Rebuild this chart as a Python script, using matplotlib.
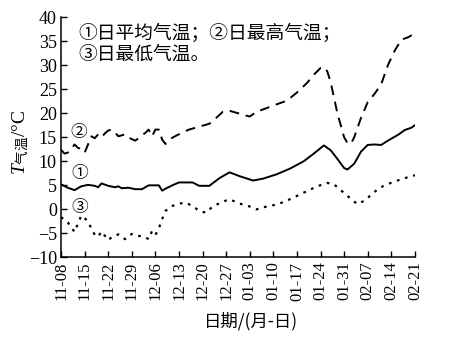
import matplotlib
matplotlib.use("Agg")
import matplotlib.pyplot as plt

plt.rcParams['font.family'] = ['Liberation Serif', 'Noto Sans CJK SC']
plt.rcParams['mathtext.fontset'] = 'custom'
plt.rcParams['mathtext.it'] = 'Liberation Serif:italic'
plt.rcParams['mathtext.rm'] = 'Noto Sans CJK SC'

# days counted from 11-08
tick_labels = ['11-08', '11-15', '11-22', '11-29', '12-06', '12-13', '12-20', '12-27',
               '01-03', '01-10', '01-17', '01-24', '01-31', '02-07', '02-14', '02-21']

mean_days = [0, 2, 4, 6, 8, 10, 11, 12, 14, 16, 17, 18, 20, 22, 24, 26, 29, 30, 31, 33,
             35, 39, 41, 44, 47, 50, 53, 57, 60, 64, 68, 72, 75, 78, 80, 82, 84, 85, 87,
             89, 91, 93, 95, 97, 100, 102, 104, 105]
mean_temp = [5.2, 4.5, 4.0, 4.8, 5.1, 4.9, 4.6, 5.4, 4.9, 4.6, 4.8, 4.4, 4.5, 4.2, 4.2,
             5.0, 5.0, 3.9, 4.3, 5.0, 5.6, 5.6, 4.9, 4.9, 6.5, 7.7, 6.9, 6.0, 6.4, 7.3,
             8.5, 10.0, 11.6, 13.3, 12.3, 10.5, 8.6, 8.3, 9.5, 12.0, 13.4, 13.5, 13.4,
             14.3, 15.5, 16.5, 17.0, 17.5]

max_days = [0, 1, 2, 3, 4, 5, 6, 7, 8, 9, 10, 11, 12, 13, 14, 15, 16, 17, 18, 19, 20, 21,
            22, 23, 24, 25, 26, 27, 28, 29, 30, 31, 33, 36, 38, 41, 44, 46, 48, 50, 53,
            56, 58, 60, 63, 67, 70, 73, 75, 77, 78, 79, 80, 82, 84, 85, 86, 87, 89, 91,
            93, 95, 97, 99, 101, 103, 105]
max_temp = [12.4, 11.6, 11.8, 12.5, 13.5, 12.8, 12.6, 11.8, 13.5, 15.2, 14.8, 15.6, 15.0,
            15.8, 16.4, 16.6, 16.0, 15.2, 15.4, 15.6, 15.0, 14.6, 14.3, 14.8, 15.4, 15.9,
            16.6, 15.2, 16.6, 16.6, 14.5, 13.6, 14.9, 16.0, 16.6, 17.2, 17.8, 19.0, 20.3,
            20.5, 19.9, 19.3, 20.3, 20.8, 21.6, 22.6, 24.3, 26.3, 28.0, 29.4, 29.6, 28.7,
            26.5, 20.0, 15.0, 13.8, 13.6, 15.0, 19.0, 22.3, 24.0, 26.0, 30.0, 33.0, 35.3,
            35.8, 36.6]

min_days = [0, 2, 4, 6, 7, 8, 10, 11, 12, 14, 15, 17, 19, 21, 23, 25, 26, 27, 28, 29, 30,
            31, 33, 35, 37, 39, 41, 43, 45, 48, 50, 53, 56, 58, 61, 64, 67, 70, 73, 76,
            79, 81, 83, 85, 87, 88, 90, 92, 94, 96, 99, 102, 105]
min_temp = [-1.6, -2.7, -4.7, -1.3, -1.8, -2.6, -5.3, -5.7, -4.6, -6.4, -5.8, -5.2, -6.2,
            -5.1, -5.5, -5.8, -6.2, -4.5, -5.3, -4.0, -2.0, -0.3, 0.7, 1.2, 1.4, 0.7,
            -0.3, -0.7, 0.6, 1.6, 2.1, 1.2, 0.6, 0.0, 0.6, 1.0, 1.8, 2.8, 3.8, 4.8, 5.5,
            5.2, 4.0, 2.8, 1.6, 1.1, 1.8, 3.0, 4.2, 5.0, 5.8, 6.5, 7.1]

fig = plt.figure(figsize=(4.49, 3.41), dpi=100)
ax = fig.add_axes([0.136, 0.245, 0.788, 0.705])

ax.plot(mean_days, mean_temp, color='black', lw=1.4, ls='-')
ax.plot(max_days, max_temp, color='black', lw=1.4, ls=(0, (5, 3.5)))
ax.plot(min_days, min_temp, color='black', lw=1.6, ls=(0, (1.2, 2.6)))

ax.set_xlim(0, 105)
ax.set_ylim(-10, 40)
ax.set_xticks(range(0, 106, 7))
ax.set_xticklabels(tick_labels, rotation=90, fontsize=12)
ax.set_yticks(range(-10, 41, 5))
ax.set_yticklabels(['\u221210', '\u22125'] + [str(v) for v in range(0, 41, 5)], fontsize=13)
ax.tick_params(direction='in', length=4, width=1, pad=3)
for side in ['top', 'right']:
    ax.spines[side].set_visible(False)
for side in ['left', 'bottom']:
    ax.spines[side].set_linewidth(1.1)

cjk = ['Noto Sans CJK SC', 'Liberation Serif']
ax.text(0.05, 0.975, '①日平均气温；②日最高气温；\n③日最低气温。', transform=ax.transAxes,
        fontsize=13.5, family=cjk, va='top', ha='left', linespacing=1.0)
ax.text(5.2, 16.0, '②', fontsize=12, family=cjk, ha='center', va='center')
ax.text(5.6, 7.4, '①', fontsize=12, family=cjk, ha='center', va='center')
ax.text(5.6, 0.4, '③', fontsize=12, family=cjk, ha='center', va='center')

fig.text(21 / 449, 1 - 142 / 341, r'$\mathit{T}_{\mathrm{气温}}$/°C', rotation=90,
         fontsize=14, ha='center', va='center')
fig.text(251 / 449, 1 - 321 / 341, '日期/(月-日)', fontsize=12.5, family=cjk,
         ha='center', va='center')

fig.savefig('out.png', dpi=100)
